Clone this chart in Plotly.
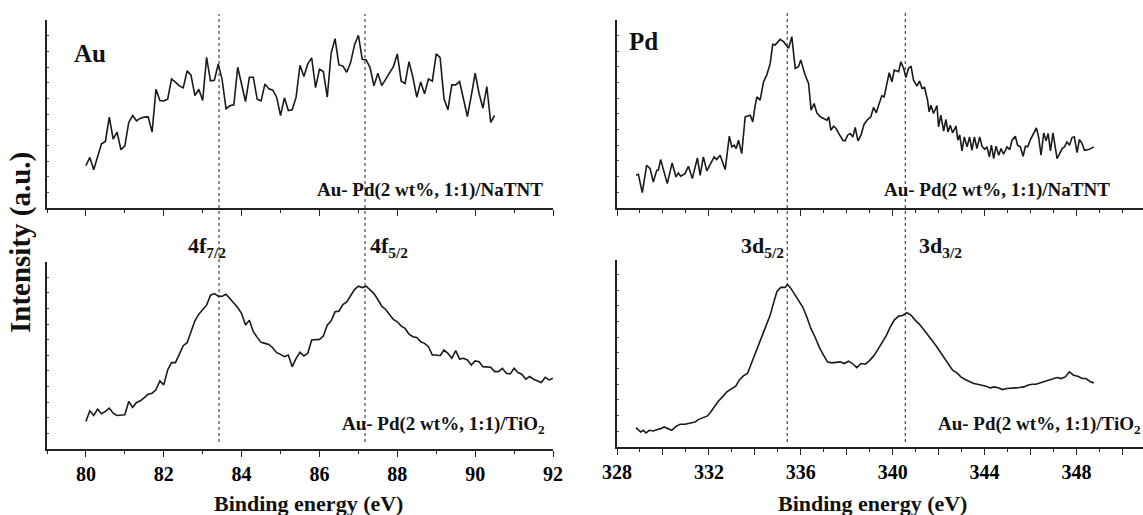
import plotly.graph_objects as go

# ---------------- data (binding energy in eV, intensity in arbitrary units) ----------------
au_natnt_be = [
    80.0, 80.1, 80.2, 80.3, 80.4, 80.5, 80.6, 80.7, 80.8, 80.9,
    81.0, 81.1, 81.2, 81.3, 81.4, 81.5, 81.6, 81.7, 81.8, 81.9,
    82.0, 82.1, 82.2, 82.3, 82.4, 82.5, 82.6, 82.7, 82.8, 82.9,
    83.0, 83.1, 83.2, 83.3, 83.4, 83.5, 83.6, 83.7, 83.8, 83.9,
    84.0, 84.1, 84.2, 84.3, 84.4, 84.5, 84.6, 84.7, 84.8, 84.9,
    85.0, 85.1, 85.2, 85.3, 85.4, 85.5, 85.6, 85.7, 85.8, 85.9,
    86.0, 86.1, 86.2, 86.3, 86.4, 86.5, 86.6, 86.7, 86.8, 86.9,
    87.0, 87.1, 87.2, 87.3, 87.4, 87.5, 87.6, 87.7, 87.8, 87.9,
    88.0, 88.1, 88.2, 88.3, 88.4, 88.5, 88.6, 88.7, 88.8, 88.9,
    89.0, 89.1, 89.2, 89.3, 89.4, 89.5, 89.6, 89.7, 89.8, 89.9,
    90.0, 90.1, 90.2, 90.3, 90.4, 90.5,
]
au_natnt_int = [
    127, 152, 115, 155, 193, 200, 273, 207, 228, 175,
    187, 257, 278, 262, 270, 273, 274, 228, 357, 323,
    322, 327, 388, 378, 367, 361, 412, 399, 338, 357,
    323, 453, 382, 384, 433, 385, 298, 307, 310, 423,
    371, 320, 393, 393, 327, 322, 373, 358, 354, 333,
    278, 331, 293, 295, 333, 429, 395, 433, 451, 362,
    417, 410, 333, 465, 509, 430, 427, 408, 437, 490,
    519, 447, 445, 422, 367, 405, 368, 387, 403, 425,
    463, 381, 374, 440, 393, 333, 379, 343, 388, 381,
    463, 452, 328, 295, 370, 370, 380, 325, 275, 337,
    405, 345, 300, 365, 257, 278,
]

au_tio2_be = [
    80.0, 80.1, 80.2, 80.3, 80.4, 80.5, 80.6, 80.7, 80.8, 80.9,
    81.0, 81.1, 81.2, 81.3, 81.4, 81.5, 81.6, 81.7, 81.8, 81.9,
    82.0, 82.1, 82.2, 82.3, 82.4, 82.5, 82.6, 82.7, 82.8, 82.9,
    83.0, 83.1, 83.2, 83.3, 83.4, 83.5, 83.6, 83.7, 83.8, 83.9,
    84.0, 84.1, 84.2, 84.3, 84.4, 84.5, 84.6, 84.7, 84.8, 84.9,
    85.0, 85.1, 85.2, 85.3, 85.4, 85.5, 85.6, 85.7, 85.8, 85.9,
    86.0, 86.1, 86.2, 86.3, 86.4, 86.5, 86.6, 86.7, 86.8, 86.9,
    87.0, 87.1, 87.2, 87.3, 87.4, 87.5, 87.6, 87.7, 87.8, 87.9,
    88.0, 88.1, 88.2, 88.3, 88.4, 88.5, 88.6, 88.7, 88.8, 88.9,
    89.0, 89.1, 89.2, 89.3, 89.4, 89.5, 89.6, 89.7, 89.8, 89.9,
    90.0, 90.1, 90.2, 90.3, 90.4, 90.5, 90.6, 90.7, 90.8, 90.9,
    91.0, 91.1, 91.2, 91.3, 91.4, 91.5, 91.6, 91.7, 91.8, 91.9,
    92.0,
]
au_tio2_int = [
    83, 115, 101, 120, 106, 113, 123, 108, 101, 101,
    103, 143, 125, 140, 145, 155, 165, 168, 178, 205,
    193, 238, 260, 260, 285, 311, 320, 350, 386, 406,
    420, 433, 463, 468, 460, 460, 466, 453, 438, 426,
    408, 373, 388, 353, 336, 321, 318, 315, 305, 290,
    285, 278, 283, 248, 273, 291, 280, 288, 328, 330,
    330, 340, 373, 386, 413, 415, 435, 443, 463, 480,
    490, 486, 490, 480, 468, 450, 430, 420, 405, 390,
    383, 370, 363, 346, 338, 336, 323, 318, 308, 283,
    283, 281, 298, 288, 273, 296, 271, 273, 268, 253,
    265, 263, 248, 248, 246, 233, 233, 243, 228, 226,
    243, 230, 225, 210, 218, 210, 206, 200, 216, 208,
    213,
]

pd_natnt_be = [
    328.83, 328.93, 329.10, 329.29, 329.44, 329.58, 329.73, 329.80, 329.90, 330.02,
    330.19, 330.40, 330.57, 330.67, 330.77, 330.96, 331.11, 331.28, 331.50, 331.62,
    331.76, 331.91, 332.08, 332.23, 332.34, 332.49, 332.71, 332.89, 333.00, 333.10,
    333.19, 333.29, 333.43, 333.58, 333.80, 333.91, 334.01, 334.09, 334.23, 334.38,
    334.52, 334.67, 334.78, 334.88, 335.10, 335.25, 335.47, 335.61, 335.76, 335.90,
    336.00, 336.19, 336.34, 336.45, 336.58, 336.70, 336.85, 336.99, 337.14, 337.22,
    337.31, 337.43, 337.54, 337.64, 337.75, 337.83, 337.93, 338.04, 338.15, 338.27,
    338.37, 338.49, 338.62, 338.76, 338.91, 339.05, 339.17, 339.29, 339.39, 339.53,
    339.63, 339.75, 339.85, 339.97, 340.07, 340.19, 340.26, 340.36, 340.48, 340.58,
    340.69, 340.80, 340.91, 341.06, 341.17, 341.28, 341.39, 341.52, 341.59, 341.67,
    341.78, 341.93, 342.00, 342.10, 342.22, 342.32, 342.41, 342.51, 342.61, 342.76,
    342.84, 342.92, 343.02, 343.12, 343.24, 343.35, 343.45, 343.56, 343.67, 343.79,
    343.89, 344.01, 344.11, 344.21, 344.30, 344.40, 344.50, 344.62, 344.72, 344.83,
    344.98, 345.10, 345.20, 345.34, 345.44, 345.56, 345.68, 345.78, 345.88, 346.00,
    346.14, 346.26, 346.36, 346.46, 346.58, 346.68, 346.77, 346.87, 346.98, 347.09,
    347.16, 347.27, 347.38, 347.48, 347.59, 347.70, 347.81, 347.91, 348.03, 348.13,
    348.25, 348.35, 348.47, 348.57, 348.76,
]
pd_natnt_int = [
    98, 101, 46, 128, 118, 78, 113, 113, 145, 118,
    73, 135, 93, 105, 95, 103, 125, 88, 150, 98,
    153, 111, 133, 153, 145, 158, 115, 215, 183, 188,
    178, 203, 163, 273, 278, 258, 305, 333, 323, 378,
    398, 433, 490, 488, 505, 498, 478, 513, 418, 423,
    443, 398, 373, 293, 313, 285, 273, 268, 263, 273,
    233, 245, 238, 225, 211, 203, 201, 218, 223, 213,
    241, 201, 218, 251, 265, 273, 301, 285, 308, 336,
    333, 368, 405, 378, 413, 410, 408, 438, 418, 391,
    418, 425, 383, 365, 380, 358, 361, 323, 288, 308,
    283, 307, 243, 278, 230, 265, 228, 248, 225, 245,
    203, 219, 171, 213, 183, 213, 173, 213, 178, 213,
    185, 176, 183, 153, 188, 148, 185, 158, 178, 161,
    183, 175, 203, 215, 188, 183, 155, 185, 183, 205,
    223, 240, 211, 158, 225, 201, 223, 171, 225, 183,
    148, 163, 178, 183, 198, 188, 211, 213, 166, 205,
    193, 173, 175, 176, 183,
]

pd_tio2_be = [
    328.83, 328.93, 329.03, 329.15, 329.26, 329.41, 329.58, 329.73, 329.90, 330.05,
    330.24, 330.38, 330.57, 330.75, 330.96, 331.18, 331.40, 331.54, 331.76, 331.94,
    332.08, 332.23, 332.42, 332.59, 332.78, 333.00, 333.17, 333.32, 333.50, 333.68,
    333.82, 334.01, 334.16, 334.35, 334.52, 334.67, 334.81, 334.96, 335.13, 335.32,
    335.42, 335.54, 335.71, 335.90, 336.08, 336.26, 336.44, 336.63, 336.80, 336.99,
    337.16, 337.35, 337.54, 337.72, 337.89, 338.08, 338.25, 338.44, 338.62, 338.81,
    338.98, 339.17, 339.34, 339.53, 339.71, 339.90, 340.07, 340.26, 340.43, 340.62,
    340.80, 340.98, 341.16, 341.35, 341.52, 341.71, 341.89, 342.07, 342.25, 342.44,
    342.61, 342.80, 342.97, 343.16, 343.34, 343.53, 343.70, 343.89, 344.06, 344.25,
    344.43, 344.62, 344.79, 344.98, 345.15, 345.34, 345.52, 345.71, 345.88, 346.07,
    346.24, 346.43, 346.61, 346.79, 346.97, 347.16, 347.33, 347.52, 347.69, 347.88,
    348.06, 348.25, 348.42, 348.61, 348.76,
]
pd_tio2_int = [
    58, 52, 45, 50, 42, 50, 48, 52, 55, 60,
    53, 50, 62, 68, 68, 72, 75, 82, 87, 93,
    105, 120, 138, 150, 165, 175, 182, 200, 213, 220,
    245, 275, 305, 340, 370, 395, 430, 465, 478, 478,
    487, 478, 460, 440, 420, 390, 355, 328, 300, 275,
    255, 252, 253, 255, 250, 257, 250, 238, 250, 248,
    258, 272, 290, 312, 332, 360, 380, 392, 394, 402,
    395, 380, 368, 352, 335, 320, 303, 285, 265, 245,
    230, 222, 210, 202, 197, 190, 188, 185, 182, 177,
    180, 177, 172, 175, 175, 177, 178, 180, 185, 188,
    188, 192, 195, 200, 202, 208, 205, 210, 225, 215,
    212, 205, 205, 195, 192,
]

au_peaks = [83.42, 87.17]
au_peak_labels = ["4f<sub>7/2</sub>", "4f<sub>5/2</sub>"]
pd_peaks = [335.41, 340.55]
pd_peak_labels = ["3d<sub>5/2</sub>", "3d<sub>3/2</sub>"]

au_ticks = [80, 82, 84, 86, 88, 90, 92]
pd_tickvals = [328, 330, 332, 334, 336, 338, 340, 342, 344, 346, 348, 350]
pd_ticktext = ["328", "", "332", "", "336", "", "340", "", "344", "", "348", ""]

label_natnt = "Au- Pd(2 wt%, 1:1)/NaTNT"
label_tio2 = "Au- Pd(2 wt%, 1:1)/TiO<sub>2</sub>"

# ---------------- layout helpers ----------------
W, H = 1143, 515
FONT = "Liberation Serif, Times New Roman, serif"


def px(x):
    return x / W


def py(y):
    return 1 - y / H


LINE = dict(color="#1a1a1a", width=1.6)

fig = go.Figure()
fig.add_trace(go.Scatter(x=au_natnt_be, y=au_natnt_int, mode="lines", line=LINE,
                         xaxis="x", yaxis="y", showlegend=False))
fig.add_trace(go.Scatter(x=pd_natnt_be, y=pd_natnt_int, mode="lines", line=LINE,
                         xaxis="x2", yaxis="y2", showlegend=False))
fig.add_trace(go.Scatter(x=au_tio2_be, y=au_tio2_int, mode="lines", line=LINE,
                         xaxis="x3", yaxis="y3", showlegend=False))
fig.add_trace(go.Scatter(x=pd_tio2_be, y=pd_tio2_int, mode="lines", line=LINE,
                         xaxis="x4", yaxis="y4", showlegend=False))

tickfont = dict(family=FONT, size=20, color="black", weight="bold")


def xaxis(domain, rng, anchor, labels, tickvals, ticktext, tick0):
    return dict(
        domain=domain, range=rng, anchor=anchor, automargin=False,
        showline=True, linecolor="#222", linewidth=1.6,
        showgrid=False, zeroline=False,
        ticks="outside", ticklen=6, tickwidth=1.4, tickcolor="#222",
        tickmode="array", tickvals=tickvals, ticktext=ticktext,
        showticklabels=labels, tickfont=tickfont,
        minor=dict(ticks="outside", ticklen=3, tickwidth=1.2, tickcolor="#222",
                   dtick=1, tick0=tick0, showgrid=False),
    )


def yaxis(domain, rng, anchor):
    return dict(
        domain=domain, range=rng, anchor=anchor, automargin=False,
        showline=True, linecolor="#222", linewidth=1.6,
        showgrid=False, zeroline=False,
        ticks="inside", ticklen=2, tickwidth=1, tickcolor="#555",
        dtick=47, tick0=0, showticklabels=False,
    )


xl = [px(47), px(553)]
xr = [px(617), 1.0]
yt_l = [py(208), py(20)]
yt_r = [py(208), py(20)]
yb_l = [py(449), py(262)]
yb_r = [py(447), py(260)]

au_text = [str(v) for v in au_ticks]

fig.update_layout(
    template="none",
    width=W, height=H,
    margin=dict(l=0, r=0, t=0, b=0, autoexpand=False),
    paper_bgcolor="white", plot_bgcolor="white",
    xaxis=xaxis(xl, [79, 92], "y", False, au_ticks, au_text, 79),
    yaxis=yaxis(yt_l, [0, 565], "x"),
    xaxis2=xaxis(xr, [328, 350.9], "y2", False, pd_tickvals, pd_ticktext, 328),
    yaxis2=yaxis(yt_r, [0, 563], "x2"),
    xaxis3=xaxis(xl, [79, 92], "y3", True, au_ticks, au_text, 79),
    yaxis3=yaxis(yb_l, [0, 563], "x3"),
    xaxis4=xaxis(xr, [328, 350.9], "y4", True, pd_tickvals, pd_ticktext, 328),
    yaxis4=yaxis(yb_r, [0, 560], "x4"),
)

# dashed peak-position lines spanning both panels
shapes = []
for e in au_peaks:
    shapes.append(dict(type="line", xref="x", yref="paper", x0=e, x1=e,
                       y0=py(442), y1=py(14),
                       line=dict(color="#222", width=1, dash="3px,3px")))
for e in pd_peaks:
    shapes.append(dict(type="line", xref="x2", yref="paper", x0=e, x1=e,
                       y0=py(442), y1=py(13),
                       line=dict(color="#222", width=1, dash="3px,3px")))
fig.update_layout(shapes=shapes)


def ann(text, x, y, size, xanchor="center", yanchor="middle", angle=0):
    return dict(text=text, x=px(x), y=py(y), xref="paper", yref="paper",
                xanchor=xanchor, yanchor=yanchor, showarrow=False, textangle=angle,
                font=dict(family=FONT, size=size, color="#111", weight="bold"))


anns = [
    ann("Au", 72, 54, 25, xanchor="left"),
    ann("Pd", 627, 41, 25, xanchor="left"),
    ann(label_natnt, 545, 190, 19, xanchor="right"),
    ann(label_natnt, 1112, 190, 19, xanchor="right"),
    ann(label_tio2, 547, 425, 19, xanchor="right"),
    ann(label_tio2, 1143, 425, 19, xanchor="right"),
    ann(au_peak_labels[0], 228, 247, 22, xanchor="right"),
    ann(au_peak_labels[1], 368, 247, 22, xanchor="left"),
    ann(pd_peak_labels[0], 786, 247, 22, xanchor="right"),
    ann(pd_peak_labels[1], 917, 247, 22, xanchor="left"),
    ann("Binding energy (eV)", 308, 503, 22),
    ann("Binding energy (eV)", 872, 503, 22),
    ann("Intensity (a.u.)", 20, 243, 29, angle=-90),
]
fig.update_layout(annotations=anns)

fig.write_html(
    "out.html",
    config={"displayModeBar": False},
    post_script="document.body.style.margin='0';document.body.style.overflow='hidden';",
)
